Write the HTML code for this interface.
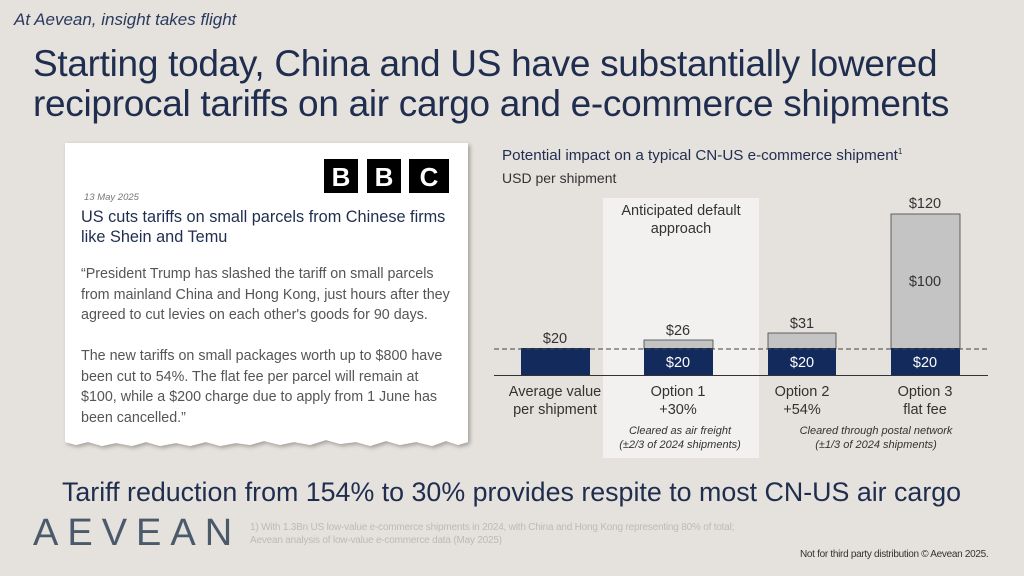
<!DOCTYPE html>
<html><head><meta charset="utf-8"><style>
*{margin:0;padding:0;box-sizing:border-box}
body{width:1024px;height:576px;background:#e5e1dc;font-family:"Liberation Sans",sans-serif;position:relative;overflow:hidden;color:#1f2d4f}
.a{position:absolute;white-space:nowrap}
</style></head><body>
<div class="a" style="left:14px;top:10px;font-size:17px;font-style:italic;color:#2a3a5e">At Aevean, insight takes flight</div>
<div class="a" style="left:33px;top:44px;font-size:37px;line-height:40px;color:#1f2d4f;letter-spacing:-0.3px">Starting today, China and US have substantially lowered<br>reciprocal tariffs on air cargo and e-commerce shipments</div>

<svg class="a" style="left:60px;top:140px" width="420" height="320">
<defs><filter id="s"><feDropShadow dx="2" dy="2" stdDeviation="2" flood-opacity="0.3"/></filter></defs>
<path filter="url(#s)" fill="#fff" d="M5 3 H408 V302 L398 305 L386 301 L372 306 L356 302 L340 305 L326 301 L310 306 L296 302 L280 304 L266 300 L250 305 L234 302 L220 305 L204 301 L190 305 L176 303 L160 306 L146 302 L130 306 L116 303 L100 306 L86 302 L72 306 L56 303 L42 306 L28 302 L16 305 L5 302 Z"/>
<rect x="264" y="19" width="34" height="34" fill="#000"/><rect x="307" y="19" width="34" height="34" fill="#000"/><rect x="349" y="19" width="40" height="34" fill="#000"/>
<text x="281" y="46" font-size="26" font-weight="bold" fill="#fff" text-anchor="middle" font-family="Liberation Sans">B</text>
<text x="324" y="46" font-size="26" font-weight="bold" fill="#fff" text-anchor="middle" font-family="Liberation Sans">B</text>
<text x="369" y="46" font-size="26" font-weight="bold" fill="#fff" text-anchor="middle" font-family="Liberation Sans">C</text>
</svg>
<div class="a" style="left:84px;top:192px;font-size:9.5px;font-style:italic;color:#777">13 May 2025</div>
<div class="a" style="left:81px;top:207px;font-size:16.3px;line-height:20px;color:#1f2d4f">US cuts tariffs on small parcels from Chinese firms<br>like Shein and Temu</div>
<div class="a" style="left:81px;top:264px;font-size:14.3px;line-height:20.5px;color:#555">“President Trump has slashed the tariff on small parcels<br>from mainland China and Hong Kong, just hours after they<br>agreed to cut levies on each other's goods for 90 days.<br><br>The new tariffs on small packages worth up to $800 have<br>been cut to 54%. The flat fee per parcel will remain at<br>$100, while a $200 charge due to apply from 1 June has<br>been cancelled.”</div>

<div class="a" style="left:502px;top:147px;font-size:15.2px;color:#1f2d4f">Potential impact on a typical CN-US e-commerce shipment<sup style="font-size:8px">1</sup></div>
<div class="a" style="left:502px;top:170px;font-size:14px;color:#333">USD per shipment</div>

<svg class="a" style="left:0;top:0" width="1024" height="576" font-family="Liberation Sans">
<rect x="603" y="198" width="156" height="260" fill="#f2f1ef"/>
<rect x="521" y="348" width="69" height="27" fill="#132a5c"/>
<rect x="644" y="340" width="69" height="9" fill="#c4c4c4" stroke="#444" stroke-width="0.8"/>
<rect x="644" y="348" width="69" height="27" fill="#132a5c"/>
<rect x="768" y="333" width="68" height="16" fill="#c4c4c4" stroke="#444" stroke-width="0.8"/>
<rect x="768" y="348" width="68" height="27" fill="#132a5c"/>
<rect x="891" y="214" width="69" height="135" fill="#c4c4c4" stroke="#444" stroke-width="0.8"/>
<rect x="891" y="348" width="69" height="27" fill="#132a5c"/>
<line x1="494" y1="349" x2="988" y2="349" stroke="#444" stroke-width="1" stroke-dasharray="5,3"/>
<line x1="494" y1="375.5" x2="988" y2="375.5" stroke="#333" stroke-width="1"/>
<g font-size="14.5" fill="#333" text-anchor="middle">
<text x="555" y="343">$20</text><text x="678" y="335">$26</text><text x="802" y="328">$31</text><text x="925" y="208">$120</text><text x="925" y="286">$100</text>
<text x="681" y="215">Anticipated default</text><text x="681" y="233">approach</text>
<text x="555" y="396">Average value</text><text x="555" y="414">per shipment</text>
<text x="678" y="396">Option 1</text><text x="678" y="414">+30%</text>
<text x="802" y="396">Option 2</text><text x="802" y="414">+54%</text>
<text x="925" y="396">Option 3</text><text x="925" y="414">flat fee</text>
</g>
<g font-size="14.5" fill="#fff" text-anchor="middle"><text x="678" y="367">$20</text><text x="802" y="367">$20</text><text x="925" y="367">$20</text></g>
<g font-size="11" font-style="italic" fill="#333" text-anchor="middle">
<text x="680" y="434">Cleared as air freight</text><text x="680" y="448">(±2/3 of 2024 shipments)</text>
<text x="876" y="434">Cleared through postal network</text><text x="876" y="448">(±1/3 of 2024 shipments)</text>
</g>
</svg>

<div class="a" style="left:62px;top:477px;font-size:26.8px;color:#1f2d4f">Tariff reduction from 154% to 30% provides respite to most CN-US air cargo</div>
<div class="a" style="left:33px;top:512px;font-size:38px;letter-spacing:9px;color:#4a5a6a">AEVEAN</div>
<div class="a" style="left:250px;top:521px;font-size:10px;line-height:13px;color:#bbb;letter-spacing:-0.2px">1) With 1.3Bn US low-value e-commerce shipments in 2024, with China and Hong Kong representing 80% of total;<br>Aevean analysis of low-value e-commerce data (May 2025)</div>
<div class="a" style="left:800px;top:549px;font-size:10px;color:#333;letter-spacing:-0.3px">Not for third party distribution © Aevean 2025.</div>
</body></html>
